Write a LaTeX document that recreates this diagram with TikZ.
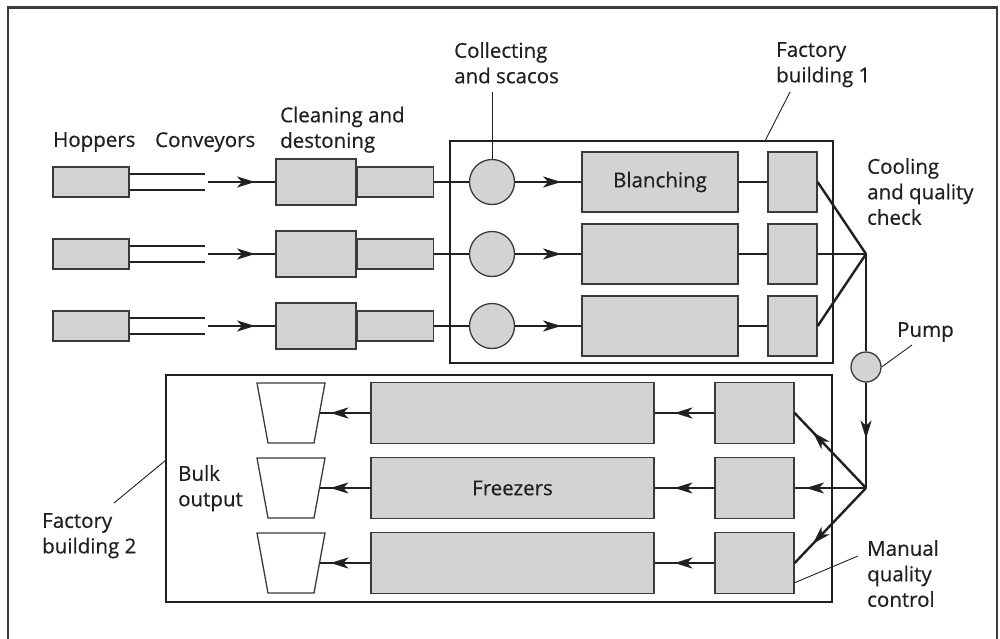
\documentclass[tikz,border=0pt]{standalone}
\usepackage{fontspec}
\setmainfont[FakeBold=0.5]{Open Sans}
\usetikzlibrary{arrows.meta,calc,decorations.markings}
\definecolor{unitfill}{HTML}{D1D3D4}
\definecolor{ink}{HTML}{231F20}
\definecolor{edge}{HTML}{3A3A3A}
\tikzset{
  unit/.style={draw=edge, fill=unitfill, line width=1.3pt, rectangle, inner sep=0pt},
  vessel/.style={draw=edge, fill=unitfill, line width=1.3pt, circle, inner sep=0pt},
  pipe/.style={draw=ink, line width=2.4pt},
  wall/.style={draw=ink, line width=2.6pt},
  leader/.style={draw=ink, line width=0.9pt},
  lbl/.style={anchor=north west, inner sep=0pt, align=left, text=ink,
    font=\fontsize{20.5}{25.5}\selectfont},
  tip/.style={postaction={decorate}, decoration={markings,
    mark=at position #1 with {\arrow{Stealth[length=18pt,width=11pt,inset=5pt]}}}}
}
\begin{document}
\begin{tikzpicture}[x=1pt,y=-1pt]
\useasboundingbox (0,0) rectangle (1000,639);

% outer frame
\draw[line width=2.4pt, draw=edge] (8,639) -- (8,7.5) -- (997,7.5) -- (997,639);

% factory buildings
\node[wall, rectangle, minimum width=383pt, minimum height=222pt, inner sep=0pt] (fb1) at (641.5,252) {};
\node[wall, rectangle, minimum width=666pt, minimum height=227pt, inner sep=0pt] (fb2) at (499,488.5) {};

% three intake lines
\foreach \i/\y in {1/182,2/254,3/326}{
  \node[unit, minimum width=76pt, minimum height=30pt] (hop\i) at (91,\y) {};
  \draw[line width=2pt, draw=ink] ([yshift=-8pt]hop\i.east) -- ++(75,0);
  \draw[line width=2pt, draw=ink] ([yshift=8pt]hop\i.east) -- ++(75,0);
  \coordinate (cv\i) at (208,\y);
  \node[unit, minimum width=80pt, minimum height=46pt] (cln\i) at (316,\y) {};
  \node[unit, minimum width=76pt, minimum height=30pt, anchor=west] (dst\i) at (cln\i.east) {};
  \node[vessel, minimum size=45pt] (col\i) at (492,\y) {};
  \node[unit, minimum width=156pt, minimum height=60pt] (bl\i) at (660,\y) {};
  \node[unit, minimum width=49pt, minimum height=60pt] (cool\i) at (792.5,\y) {};
  \draw[pipe, tip=47pt] (cv\i) -- (cln\i.west);
  \draw[pipe] (dst\i.east) -- (col\i.west);
  \draw[pipe, tip=46pt] (col\i.east) -- (bl\i.west);
  \draw[pipe] (bl\i.east) -- (cool\i.west);
}
\node[font=\fontsize{20.5}{24}\selectfont, text=ink] at (bl1) {Blanching};

% collection to pump
\coordinate (jn) at (866,254);
\node[vessel, minimum size=30pt] (pump) at (866,367) {};
\coordinate (dist) at (866,488);
\draw[pipe] (cool1.east) -- (jn);
\draw[pipe] (cool2.east) -- (jn);
\draw[pipe] (cool3.east) -- (jn);
\draw[pipe] (jn) -- (pump.north);
\draw[pipe, tip=56pt] (pump.south) -- (dist);

% freezing lines
\foreach \i/\y in {1/413,2/488,3/563}{
  \node[unit, minimum width=79pt, minimum height=61pt] (qc\i) at (754.5,\y) {};
  \node[unit, minimum width=283pt, minimum height=61pt] (frz\i) at (512.5,\y) {};
  \draw[draw=edge, line width=1.3pt, fill=white]
    (257,\y-30) -- (325,\y-30) -- (314,\y+30) -- (268,\y+30) -- cycle;
  \coordinate (bk\i) at (320,\y);
  \draw[pipe, tip=40pt] (qc\i.west) -- (frz\i.east);
  \draw[pipe, tip=40pt] (frz\i.west) -- (bk\i);
}
\node[font=\fontsize{20.5}{24}\selectfont, text=ink] at (frz2) {Freezers};
\draw[pipe, tip=77pt] (dist) -- (qc1.east);
\draw[pipe, tip=60pt] (dist) -- (qc2.east);
\draw[pipe, tip=77pt] (dist) -- (qc3.east);

% labels
\node[lbl] (tHop) at (53,132) {Hoppers};
\node[lbl] (tCon) at (155,132) {Conveyors};
\node[lbl] (tCln) at (280,106.5) {Cleaning and\\destoning};
\node[lbl] (tCol) at (454,42) {Collecting\\and scacos};
\node[lbl] (tFb1) at (776,42) {Factory\\building 1};
\node[lbl] (tCool) at (867,158) {Cooling\\and quality\\check};
\node[lbl] (tPump) at (897,322) {Pump};
\node[lbl] (tMqc) at (867,540) {Manual\\quality\\control};
\node[lbl] (tBulk) at (178,465) {Bulk\\output};
\node[lbl] (tFb2) at (42,513) {Factory\\building 2};

% leader lines
\draw[leader] (492,92) -- (col1.north);
\draw[leader] (790,92) -- (765,141);
\draw[leader] (912,345) -- (pump.east);
\draw[leader] (858,556) -- (794,583);
\draw[leader] (114,503) -- (166,460);
\end{tikzpicture}
\end{document}
